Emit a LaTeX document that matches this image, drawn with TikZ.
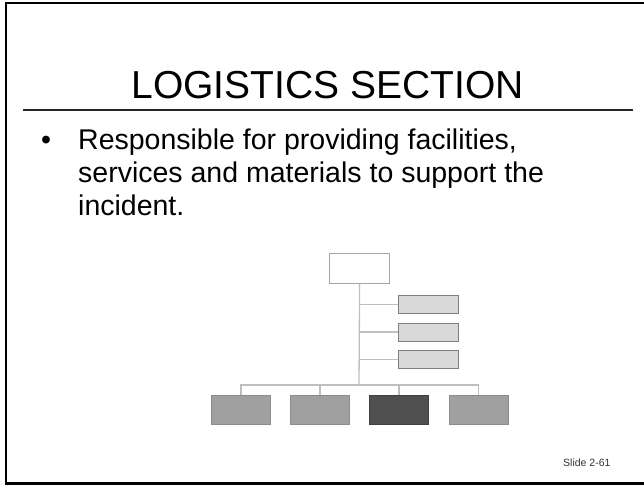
\documentclass[tikz,border=0pt]{standalone}
\usepackage{fontspec}
\setmainfont{Liberation Sans}
\definecolor{linkgray}{HTML}{BFBFBF}
\definecolor{topedge}{HTML}{A6A6A6}
\definecolor{lightfill}{HTML}{D9D9D9}
\definecolor{lightedge}{HTML}{7F7F7F}
\definecolor{midfill}{HTML}{A0A0A0}
\definecolor{midedge}{HTML}{8C8C8C}
\definecolor{darkfill}{HTML}{505050}
\definecolor{darkedge}{HTML}{404040}
\tikzset{
  orgbox/.style={draw, line width=1.2pt, inner sep=0pt, anchor=north west},
  chief/.style={orgbox, draw=topedge, fill=white, minimum width=60pt, minimum height=30pt},
  unit/.style={orgbox, draw=lightedge, fill=lightfill, minimum width=60pt, minimum height=18pt},
  branch/.style={orgbox, draw=midedge, fill=midfill, minimum width=59pt, minimum height=29pt},
  link/.style={draw=linkgray, line width=1.3pt},
  bodytext/.style={anchor=base west, inner sep=0pt, font=\fontsize{28.5}{33}\selectfont}
}
\begin{document}
\begin{tikzpicture}[x=1pt, y=-1pt]
\useasboundingbox (0,0) rectangle (644,485);
% slide frame (right edge runs off the page)
\begin{scope}
  \clip (0,0) rectangle (644,485);
  \draw[line width=2.4pt] (6,3) rectangle (660,483.5);
\end{scope}

% title and rule
\node[anchor=base, inner sep=0pt, font=\fontsize{39}{44}\selectfont] (title) at (327.5,98) {LOGISTICS SECTION};
\coordinate (ruleL) at (23,110);
\coordinate (ruleR) at (633,110);
\draw[line width=2pt, draw=black!85] (ruleL) -- (ruleR);

% bullet text
\node[bodytext] (dot) at (41,149) {•};
\node[bodytext] (l1) at (78,149) {Responsible for providing facilities,};
\node[bodytext] (l2) at (78,182) {services and materials to support the};
\node[bodytext] (l3) at (78,215) {incident.};

% organisation chart
\node[chief] (top) at (329,253) {};
\node[unit] (u1) at (398,295) {};
\node[unit] (u2) at (398,322.5) {};
\node[unit] (u3) at (398,350) {};
\node[branch] (b1) at (211,395) {};
\node[branch] (b2) at (290,395) {};
\node[branch, draw=darkedge, fill=darkfill] (b3) at (369,395) {};
\node[branch] (b4) at (448.5,395) {};
\coordinate (bar) at (359,385);

\draw[link] (top.south) -- (bar);
\draw[link] (u1.west) -- (u1.west -| top.south);
\draw[link] (u2.west) -- (u2.west -| top.south);
\draw[link] (u3.west) -- (u3.west -| top.south);
\draw[link] (b1.north) |- (bar) -| (b4.north);
\draw[link] (b2.north) -- (b2.north |- bar);
\draw[link] (b3.north) -- (b3.north |- bar);

% slide number
\node[anchor=base west, inner sep=0pt, text=black!80, font=\fontsize{10.5}{12}\selectfont] (num) at (563,466) {Slide 2-61};
\end{tikzpicture}
\end{document}
